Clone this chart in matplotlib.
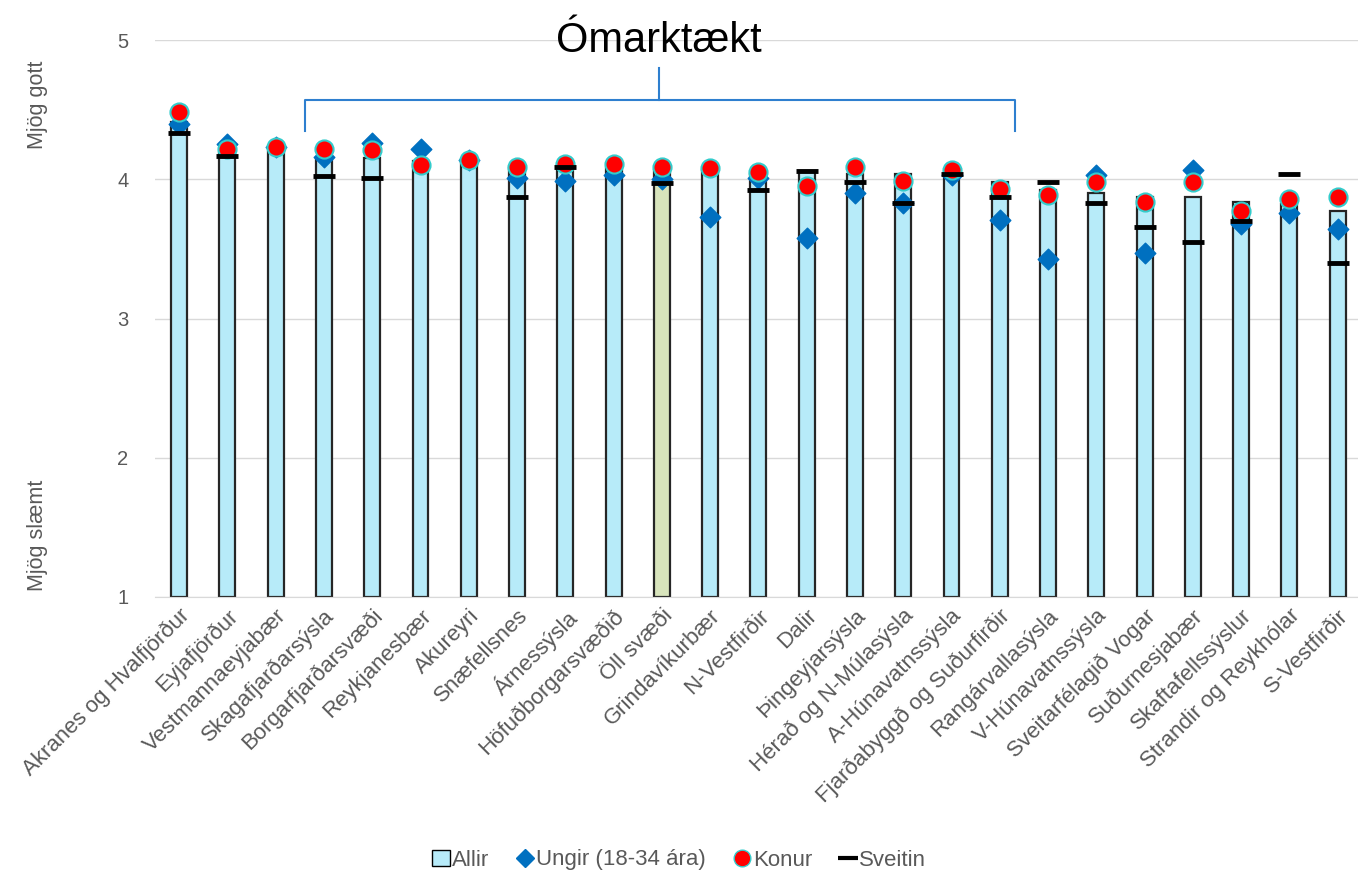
import numpy as np
import matplotlib
matplotlib.use("Agg")
from matplotlib import pyplot as plt
from matplotlib.lines import Line2D
from matplotlib.patches import Patch

plt.rcParams["font.family"] = ["Liberation Sans", "DejaVu Sans"]

svaedi = ["Akranes og Hvalfjörður", "Eyjafjörður", "Vestmannaeyjabær", "Skagafjarðarsýsla",
          "Borgarfjarðarsvæði", "Reykjanesbær", "Akureyri", "Snæfellsnes", "Árnessýsla",
          "Höfuðborgarsvæðið", "Öll svæði", "Grindavíkurbær", "N-Vestfirðir", "Dalir",
          "Þingeyjarsýsla", "Hérað og N-Múlasýsla", "A-Húnavatnssýsla", "Fjarðabyggð og Suðurfirðir",
          "Rangárvallasýsla", "V-Húnavatnssýsla", "Sveitarfélagið Vogar", "Suðurnesjabær",
          "Skaftafellssýslur", "Strandir og Reykhólar", "S-Vestfirðir"]
allir = [4.41, 4.19, 4.21, 4.15, 4.15, 4.13, 4.14, 4.08, 4.10, 4.08, 4.07, 4.07, 4.04, 4.06,
         4.04, 4.04, 4.02, 3.98, 3.92, 3.90, 3.87, 3.87, 3.84, 3.82, 3.77]
ungir = [4.40, 4.25, 4.23, 4.16, 4.26, 4.22, 4.14, 4.01, 3.99, 4.03, 4.00, 3.73, 4.01, 3.58,
         3.90, 3.83, 4.03, 3.71, 3.43, 4.03, 3.47, 4.07, 3.68, 3.76, 3.64]
konur = [4.48, 4.22, 4.23, 4.22, 4.21, 4.10, 4.14, 4.09, 4.11, 4.11, 4.09, 4.08, 4.05, 3.95,
         4.09, 3.99, 4.07, 3.93, 3.89, 3.98, 3.84, 3.98, 3.77, 3.86, 3.87]
sveitin = [4.33, 4.17, np.nan, 4.02, 4.01, np.nan, np.nan, 3.87, 4.09, np.nan, 3.97, np.nan,
           3.92, 4.06, 3.98, 3.83, 4.04, 3.87, 3.98, 3.83, 3.66, 3.55, 3.70, 4.04, 3.40]

grey = "#595959"
x = np.arange(len(svaedi))

fig = plt.figure(figsize=(13.58, 8.75), dpi=100)
ax = fig.add_axes([155/1358, 1 - 597/875, 1 - 155/1358, (597 - 40)/875])

colors = ["#B7EBF9"] * len(svaedi)
colors[svaedi.index("Öll svæði")] = "#D8E4BC"
bottom = 1
ax.bar(x, np.array(allir) - bottom, bottom=bottom, width=0.33, color=colors,
       edgecolor="#262626", linewidth=1.6, zorder=2)
ax.scatter(x, ungir, marker="D", s=110, color="#0070C0", zorder=3)
ax.scatter(x, konur, marker="o", s=170, color="#FF0000", edgecolors="#33CCCC",
           linewidths=1.5, zorder=4)
ax.scatter(x, sveitin, marker="_", s=260, color="black", linewidths=3.5, zorder=5)

ax.set_ylim(1, 5)
ax.set_xlim(-0.5, 24.42)
ax.set_yticks([1, 2, 3, 4, 5])
ax.grid(axis="y", color="#D9D9D9", linewidth=1, zorder=0)
ax.set_axisbelow(True)
for s in ["top", "right", "left"]:
    ax.spines[s].set_visible(False)
ax.spines["bottom"].set_color("#D9D9D9")
ax.tick_params(axis="y", length=0, labelsize=14.5, labelcolor=grey, pad=19)
ax.tick_params(axis="x", length=0, labelsize=16, labelcolor=grey, pad=6)
ax.set_xticks(x)
ax.set_xticklabels(svaedi, rotation=45, ha="right", rotation_mode="anchor")

fig.text(38/1358, 1 - 105/875, "Mjög gott", rotation=90, ha="center", va="center",
         fontsize=15.5, color=grey)
fig.text(38/1358, 1 - 535/875, "Mjög slæmt", rotation=90, ha="center", va="center",
         fontsize=15.5, color=grey)

# bracket for non-significant group
bx0, bx1, bxm = 2.61, 17.31, 9.94
ax.plot([bx0, bx0, bx1, bx1], [4.35, 4.57, 4.57, 4.35], color="#2E7FCF", lw=1.5,
        clip_on=False, zorder=6)
ax.plot([bxm, bxm], [4.57, 4.80], color="#2E7FCF", lw=1.5, clip_on=False, zorder=6)
ax.text(bxm, 4.99, "Ómarktækt", ha="center", va="center", fontsize=30, color="black",
        zorder=7)

handles = [Patch(facecolor="#B7EBF9", edgecolor="black", label="Allir"),
           Line2D([], [], marker="D", ls="none", color="#0070C0", markersize=9, label="Ungir (18-34 ára)"),
           Line2D([], [], marker="o", ls="none", color="#FF0000", markeredgecolor="#33CCCC",
                  markersize=12, label="Konur"),
           Line2D([], [], marker="_", ls="none", color="black", markersize=15,
                  markeredgewidth=3, label="Sveitin")]
fig.legend(handles=handles, loc="center", bbox_to_anchor=(0.5, 1 - 860/875), ncol=4,
           frameon=False, fontsize=16, labelcolor=grey, handlelength=0.8,
           handletextpad=0.1, columnspacing=1.2)

fig.savefig("out.png", dpi=100)
